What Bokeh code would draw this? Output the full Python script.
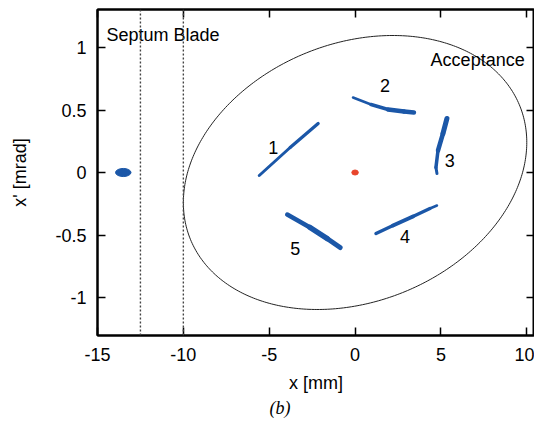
import numpy as np
from bokeh.plotting import figure
from bokeh.models import Range1d, FixedTicker, Span, Title, LinearAxis
from bokeh.core.properties import value
from bokeh.embed import file_html
from bokeh.resources import INLINE

# ---------------- data ----------------
x_ticks = [-15, -10, -5, 0, 5, 10]
x_tick_labels = ["-15", "-10", "-5", "0", "5", "10"]
y_ticks = [-1, -0.5, 0, 0.5, 1]
y_tick_labels = ["-1", "-0.5", "0", "0.5", "1"]

x_start, x_end = -15.0, 10.45
y_start, y_end = -1.304, 1.304

septum_x = [-12.5, -10.0]

# acceptance ellipse (x_max [mm], x'_max [mrad], correlation)
acc_xmax = 10.0
acc_xpmax = 1.096
acc_corr = 0.22

# beam islands (centre lines) and their apparent thickness
arc1_x = [-5.58, -3.78, -2.15]
arc1_y = [-0.024, 0.20, 0.392]
arc1_w = [2.5, 3.5, 3.0]

arc2_x = [-0.12, 0.93, 1.92, 2.85, 3.43]
arc2_y = [0.60, 0.544, 0.504, 0.488, 0.48]
arc2_w = [2.0, 3.0, 4.0, 5.0, 4.0]

arc3_x = [5.35, 5.12, 4.83, 4.71, 4.77]
arc3_y = [0.432, 0.312, 0.176, 0.04, -0.008]
arc3_w = [5.0, 5.0, 4.0, 3.0, 3.0]

arc4_x = [1.22, 2.21, 3.37, 4.36, 4.77]
arc4_y = [-0.488, -0.424, -0.352, -0.288, -0.264]
arc4_w = [3.0, 4.0, 4.0, 3.0, 2.0]

arc5_x = [-3.95, -2.62, -1.63, -0.87]
arc5_y = [-0.336, -0.44, -0.528, -0.60]
arc5_w = [4.0, 5.0, 6.0, 4.0]

island_labels = ["1", "2", "3", "4", "5"]
island_label_x = [-4.77, 1.74, 5.52, 2.91, -3.49]
island_label_y = [0.20, 0.696, 0.096, -0.512, -0.61]

# extracted beam at septum and central beam
ext_x, ext_y, ext_w, ext_h = -13.5, 0.0, 0.9, 0.065
core_x, core_y, core_w, core_h = 0.0, 0.0, 0.38, 0.04

BLUE = "#1b57a8"
RED = "#e8452c"
FONT = "Liberation Sans"

p = figure(width=534, height=421, output_backend="svg", toolbar_location=None,
           x_range=Range1d(x_start, x_end), y_range=Range1d(y_start, y_end),
           min_border_left=97, min_border_right=0, min_border_top=9,
           min_border_bottom=86)
p.background_fill_color = "white"
p.border_fill_color = "white"
p.outline_line_color = "black"
p.outline_line_width = 2
p.xgrid.visible = False
p.ygrid.visible = False


def base_axis(ax, ticks):
    ax.ticker = FixedTicker(ticks=ticks)
    ax.major_tick_in = 8
    ax.major_tick_out = 0
    ax.minor_tick_in = 0
    ax.minor_tick_out = 0
    ax.major_tick_line_color = "black"
    ax.major_tick_line_width = 1.5
    ax.axis_line_color = "black"
    ax.axis_line_width = 2


for ax, ticks, labels in [(p.xaxis[0], x_ticks, x_tick_labels),
                          (p.yaxis[0], y_ticks, y_tick_labels)]:
    base_axis(ax, ticks)
    ax.major_label_overrides = {t: l for t, l in zip(ticks, labels)}
    ax.major_label_text_font = FONT
    ax.major_label_text_font_size = "18px"
    ax.major_label_text_color = "black"
    ax.axis_label_text_font = FONT
    ax.axis_label_text_font_size = "18px"
    ax.axis_label_text_font_style = "normal"
    ax.axis_label_text_color = "black"

p.xaxis[0].axis_label = "x [mm]"
p.yaxis[0].axis_label = "x' [mrad]"
p.xaxis[0].major_label_standoff = 12
p.yaxis[0].major_label_standoff = 11
p.xaxis[0].axis_label_standoff = 9
p.yaxis[0].axis_label_standoff = 22

# mirrored ticks on top and right (ticks only)
for loc, ticks in [("above", x_ticks), ("right", y_ticks)]:
    mirror = LinearAxis()
    base_axis(mirror, ticks)
    mirror.major_label_overrides = {t: "" for t in ticks}
    mirror.major_label_text_font_size = "1px"
    mirror.major_label_standoff = 0
    p.add_layout(mirror, loc)

# septum blade (dotted verticals)
for sx in septum_x:
    p.add_layout(Span(location=sx, dimension="height", line_color="#444444",
                      line_width=1.4, line_dash="2 2"))

# acceptance ellipse
t = np.linspace(0, 2 * np.pi, 400)
theta = np.arccos(acc_corr)
ex = acc_xmax * np.cos(t)
ey = acc_xpmax * np.cos(t - theta)
p.line(ex, ey, line_color="#222222", line_width=1)

# islands
for ax_, ay_, aw_ in [(arc1_x, arc1_y, arc1_w), (arc2_x, arc2_y, arc2_w),
                      (arc3_x, arc3_y, arc3_w), (arc4_x, arc4_y, arc4_w),
                      (arc5_x, arc5_y, arc5_w)]:
    xs = [[ax_[i], ax_[i + 1]] for i in range(len(ax_) - 1)]
    ys = [[ay_[i], ay_[i + 1]] for i in range(len(ay_) - 1)]
    ws = [(aw_[i] + aw_[i + 1]) / 2 for i in range(len(aw_) - 1)]
    p.multi_line(xs, ys, line_color=BLUE, line_width=ws, line_cap="round")

p.ellipse(x=[ext_x], y=[ext_y], width=ext_w, height=ext_h, fill_color=BLUE,
          line_color=BLUE, line_width=1)
p.ellipse(x=[core_x], y=[core_y], width=core_w, height=core_h, fill_color=RED,
          line_color=RED, line_width=1)

p.text(x=island_label_x, y=island_label_y, text=island_labels,
       text_font=value(FONT), text_font_size="18px", text_align="center",
       text_baseline="middle", text_color="black")

p.text(x=[-14.48], y=[1.104], text=["Septum Blade"], text_font=value(FONT),
       text_font_size="18px", text_align="left", text_baseline="middle",
       text_color="black")
p.text(x=[4.40], y=[0.904], text=["Acceptance"], text_font=value(FONT),
       text_font_size="18px", text_align="left", text_baseline="middle",
       text_color="black")

p.add_layout(Title(text="(b)", align="left", offset=172, standoff=0,
                   text_font="Liberation Serif", text_font_style="italic",
                   text_font_size="18px", text_color="black"), "below")

open("out.html", "w").write(file_html(p, INLINE))
